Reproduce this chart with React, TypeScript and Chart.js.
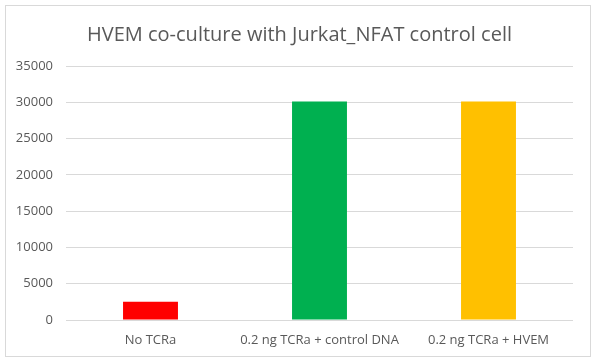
import React, { useEffect, useRef } from "react";
import { Chart, registerables } from "chart.js";

Chart.register(...registerables);

const categories = ["No TCRa", "0.2 ng TCRa + control DNA", "0.2 ng TCRa + HVEM"];
const values = [2500, 30100, 30100];
const barColors = ["#FF0000", "#00B050", "#FFC000"];
const titleText = "HVEM co-culture with Jurkat_NFAT control cell";
const yMax = 35000;
const yStep = 5000;

const FONT = "'Open Sans', 'Liberation Sans', sans-serif";

const borderPlugin = {
  id: "outerBorder",
  beforeDraw(chart: any) {
    const ctx = chart.ctx;
    ctx.save();
    ctx.fillStyle = "#ffffff";
    ctx.fillRect(0, 0, chart.width, chart.height);
    ctx.strokeStyle = "#d9d9d9";
    ctx.lineWidth = 1;
    ctx.strokeRect(5.5, 5.5, 585, 351);
    ctx.restore();
  },
};

export default function App() {
  const ref = useRef<HTMLCanvasElement | null>(null);
  useEffect(() => {
    if (!ref.current) return;
    const chart = new Chart(ref.current, {
      type: "bar",
      data: {
        labels: categories,
        datasets: [
          {
            data: values,
            backgroundColor: barColors,
            borderWidth: 0,
            categoryPercentage: 1,
            barPercentage: 0.325,
          },
        ],
      },
      options: {
        animation: false,
        responsive: false,
        maintainAspectRatio: false,
        layout: { padding: { top: 0, right: 0, bottom: 0, left: 0 } },
        plugins: {
          legend: { display: false },
          tooltip: { enabled: false },
          title: {
            display: true,
            text: titleText,
            color: "#595959",
            font: { family: FONT, size: 20, weight: "normal" },
            padding: { top: 23, bottom: 19 },
          },
        },
        scales: {
          x: {
            grid: { display: false, drawTicks: false },
            border: { display: false },
            ticks: {
              color: "#595959",
              font: { family: FONT, size: 13 },
              padding: 12,
              maxRotation: 0,
            },
            afterFit(scale: any) {
              scale.height = 44;
            },
          },
          y: {
            min: 0,
            max: yMax,
            grid: { color: "#d9d9d9", drawTicks: false, lineWidth: 1 },
            border: { display: false },
            ticks: {
              stepSize: yStep,
              color: "#595959",
              font: { family: FONT, size: 13 },
              padding: 13,
              callback: (v: any) => String(v),
            },
            afterFit(scale: any) {
              scale.width = 66;
            },
          },
          yRight: {
            position: "right",
            display: true,
            grid: { display: false, drawTicks: false },
            border: { display: false },
            ticks: { display: false },
            afterFit(scale: any) {
              scale.width = 26;
            },
          },
        },
      },
      plugins: [borderPlugin],
    });
    return () => chart.destroy();
  }, []);
  return (
    <div style={{ position: "fixed", left: 0, top: 0, width: 599, height: 364 }}>
      <canvas ref={ref} width={599} height={364} style={{ width: 599, height: 364, display: "block" }} />
    </div>
  );
}
